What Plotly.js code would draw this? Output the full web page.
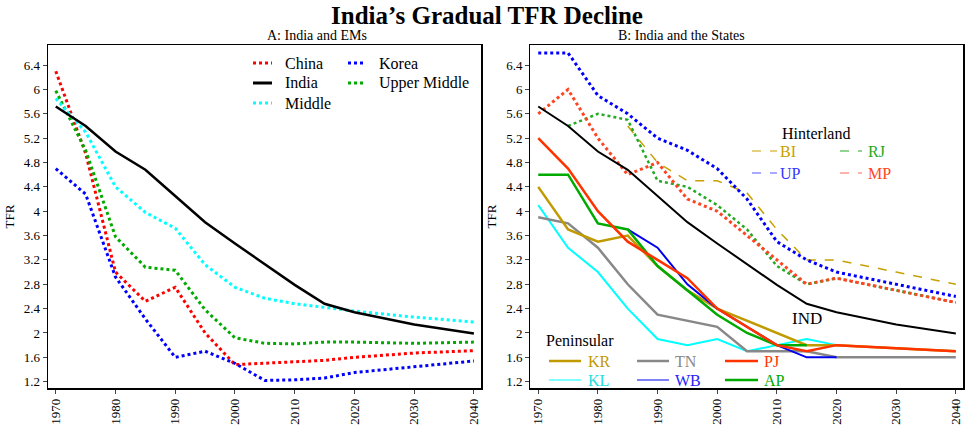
<!DOCTYPE html>
<html>
<head>
<meta charset="utf-8">
<script src="https://cdn.plot.ly/plotly-3.0.1.min.js"></script>
<style>body{margin:0;background:#fff}#chart{width:974px;height:430px}</style>
</head>
<body>
<div id="chart"></div>
<script>
const years = [1970, 1975, 1980, 1985, 1990, 1995, 2000, 2005, 2010, 2015, 2020, 2030, 2040];

// Panel A
const china = [6.3, 4.95, 3.0, 2.52, 2.75, 2.0, 1.48, 1.5, 1.53, 1.55, 1.6, 1.67, 1.71];
const korea = [4.7, 4.28, 2.92, 2.23, 1.6, 1.7, 1.5, 1.22, 1.23, 1.26, 1.35, 1.45, 1.54];
const india = [5.72, 5.4, 4.98, 4.68, 4.25, 3.82, 3.47, 3.13, 2.79, 2.48, 2.34, 2.14, 1.99];
const middle = [5.85, 5.3, 4.4, 3.98, 3.72, 3.12, 2.75, 2.57, 2.48, 2.42, 2.36, 2.26, 2.18];
const upperMiddle = [5.98, 5.0, 3.58, 3.08, 3.03, 2.38, 1.92, 1.83, 1.82, 1.85, 1.85, 1.83, 1.85];

// Panel B: hinterland
const bi = [null, null, null, 5.4, 4.8, 4.5, 4.5, 4.3, 3.7, 3.2, 3.2, 3.0, 2.8];
const up = [6.6, 6.6, 5.9, 5.6, 5.2, 5.0, 4.7, 4.2, 3.5, 3.2, 3.0, 2.8, 2.6];
const rj = [null, 5.4, 5.6, 5.5, 4.5, 4.4, 4.1, 3.7, 3.1, 2.8, 2.9, 2.7, 2.5];
const mp = [5.6, 6.0, 5.2, 4.6, 4.8, 4.2, 4.0, 3.6, 3.2, 2.8, 2.9, 2.7, 2.5];
// Panel B: peninsular
const kr = [4.4, 3.7, 3.5, 3.6, 3.1, 2.7, 2.4, 2.2, 2.0, 1.8, 1.8, 1.75, 1.7];
const kl = [4.1, 3.4, 3.0, 2.4, 1.9, 1.8, 1.9, 1.7, 1.8, 1.9, 1.8, null, null];
const tn = [3.9, 3.8, 3.4, 2.8, 2.3, 2.2, 2.1, 1.7, 1.7, 1.7, 1.6, 1.6, 1.6];
const wb = [null, null, null, 3.7, 3.4, 2.8, 2.4, 2.1, 1.8, 1.6, 1.6, null, null];
const pj = [5.2, 4.7, 4.0, 3.5, 3.2, 2.9, 2.4, 2.1, 1.8, 1.7, 1.8, 1.75, 1.7];
const ap = [4.6, 4.6, 3.8, 3.7, 3.1, 2.7, 2.3, 2.0, 1.8, 1.8, null, null, null];

const yTicks = [1.2, 1.6, 2, 2.4, 2.8, 3.2, 3.6, 4, 4.4, 4.8, 5.2, 5.6, 6, 6.4];
const xTicks = [1970, 1980, 1990, 2000, 2010, 2020, 2030, 2040];

const font = 'Liberation Serif';
const W = 974, H = 430, ML = 48, MR = 11, MT = 45, MB = 42;
const px = (x) => (x - ML) / (W - ML - MR);
const py = (y) => (H - MB - y) / (H - MT - MB);

function tr(y, color, dash, width, xa, ya) {
  return {
    x: years, y: y, type: 'scatter', mode: 'lines', showlegend: false,
    line: { color: color, dash: dash, width: width },
    xaxis: xa, yaxis: ya, connectgaps: false, hoverinfo: 'skip'
  };
}

// legend entries: [label, line colour, text colour, dash, width, lineX0, lineX1, textX, y]
const legendItems = [
  ['China', '#ff0000', '#000', 'dot', 3, 253, 272, 283, 63],
  ['India', '#000000', '#000', 'solid', 3, 253, 272, 283, 83],
  ['Middle', '#00ffff', '#000', 'dot', 3, 253, 272, 283, 103],
  ['Korea', '#0000ff', '#000', 'dot', 3, 348, 365, 377, 63],
  ['Upper Middle', '#00aa00', '#000', 'dot', 3, 348, 365, 377, 83],
  ['BI', '#c8a000', '#c8a000', 'dash', 1, 752, 777, 778, 151],
  ['UP', '#5555ff', '#3333ff', 'dash', 1, 752, 777, 778, 173],
  ['RJ', '#22aa22', '#22aa22', 'dash', 1, 840, 862, 866, 151],
  ['MP', '#ff6655', '#ff4422', 'dash', 1, 840, 862, 866, 173],
  ['KR', '#c09a00', '#c09a00', 'solid', 2.5, 549, 581, 586, 361],
  ['KL', '#00ffff', '#22dddd', 'solid', 1, 549, 581, 586, 380],
  ['TN', '#888888', '#888888', 'solid', 2.5, 637, 669, 673, 361],
  ['WB', '#0000ee', '#2222ff', 'solid', 1, 637, 669, 673, 380],
  ['PJ', '#ff3300', '#ff3300', 'solid', 2.5, 725, 758, 762, 361],
  ['AP', '#00aa00', '#00aa00', 'solid', 2.5, 725, 758, 762, 380]
];

const data = [
  tr(china, '#ff0000', 'dot', 3, 'x', 'y'),
  tr(korea, '#0000ff', 'dot', 3, 'x', 'y'),
  tr(upperMiddle, '#00aa00', 'dot', 3, 'x', 'y'),
  tr(middle, '#00ffff', 'dot', 3, 'x', 'y'),
  tr(india, '#000000', 'solid', 2.5, 'x', 'y'),

  tr(bi, '#c8a000', 'dash', 1.5, 'x2', 'y2'),
  tr(rj, '#22aa22', 'dot', 2.5, 'x2', 'y2'),
  tr(up, '#0000ff', 'dot', 3, 'x2', 'y2'),
  tr(mp, '#ff4422', 'dot', 3, 'x2', 'y2'),
  tr(india, '#000000', 'solid', 2, 'x2', 'y2'),
  tr(kl, '#00ffff', 'solid', 2, 'x2', 'y2'),
  tr(tn, '#888888', 'solid', 2.5, 'x2', 'y2'),
  tr(kr, '#c09a00', 'solid', 2.5, 'x2', 'y2'),
  tr(wb, '#0000ee', 'solid', 2, 'x2', 'y2'),
  tr(ap, '#00aa00', 'solid', 2.5, 'x2', 'y2'),
  tr(pj, '#ff3300', 'solid', 2.5, 'x2', 'y2')
];

const shapes = legendItems.map(it => ({
  type: 'line', xref: 'paper', yref: 'paper',
  x0: px(it[5]), x1: px(it[6]), y0: py(it[8]), y1: py(it[8]),
  line: { color: it[1], dash: it[3], width: it[4] }
}));
const annotations = legendItems.map(it => ({
  text: it[0], xref: 'paper', yref: 'paper', x: px(it[7]), y: py(it[8]),
  xanchor: 'left', yanchor: 'middle', showarrow: false,
  font: { size: 16, family: font, color: it[2] }
}));
annotations.push(
  { text: 'A: India and EMs', xref: 'paper', yref: 'paper', x: 0.2367, y: 1.0, yanchor: 'bottom',
    showarrow: false, font: { size: 14, family: font } },
  { text: 'B: India and the States', xref: 'paper', yref: 'paper', x: 0.7637, y: 1.0, yanchor: 'bottom',
    showarrow: false, font: { size: 14, family: font } },
  { text: 'Hinterland', xref: 'paper', yref: 'paper', x: px(780), y: py(133), xanchor: 'left',
    yanchor: 'middle', showarrow: false, font: { size: 16, family: font } },
  { text: 'Peninsular', xref: 'paper', yref: 'paper', x: px(544), y: py(340), xanchor: 'left',
    yanchor: 'middle', showarrow: false, font: { size: 16, family: font } },
  { text: 'IND', xref: 'x2', yref: 'y2', x: 2015, y: 2.43, xanchor: 'center', yanchor: 'top',
    showarrow: false, font: { size: 17, family: font } }
);

const axisX = (dom, anchor) => ({
  domain: dom, anchor: anchor, range: [1968.7, 2041.2], tickvals: xTicks, tickangle: -90,
  showgrid: false, zeroline: false, showline: true, mirror: true,
  linecolor: '#000', linewidth: 1.5, ticks: 'outside', ticklen: 4,
  tickfont: { size: 13, family: font }
});
const axisY = (anchor) => ({
  anchor: anchor, range: [1.096, 6.73], tickvals: yTicks,
  showgrid: false, zeroline: false, showline: true, mirror: true,
  linecolor: '#000', linewidth: 1.5, ticks: 'outside', ticklen: 4,
  tickfont: { size: 13, family: font },
  title: { text: 'TFR', font: { size: 13, family: font }, standoff: 6 }
});

const layout = {
  width: W, height: H,
  margin: { t: MT, b: MB, l: ML, r: MR },
  paper_bgcolor: '#fff', plot_bgcolor: '#fff',
  font: { family: font, color: '#000' },
  showlegend: false,
  title: { text: '<b>India\u2019s Gradual TFR Decline</b>', x: 0.5, y: 0.985, yanchor: 'top',
    font: { size: 25, family: font } },
  xaxis: axisX([0, 0.4733], 'y'),
  yaxis: axisY('x'),
  xaxis2: axisX([0.5273, 1], 'y2'),
  yaxis2: axisY('x2'),
  shapes: shapes,
  annotations: annotations
};

Plotly.newPlot('chart', data, layout, { displayModeBar: false, staticPlot: true });
</script>
</body>
</html>
